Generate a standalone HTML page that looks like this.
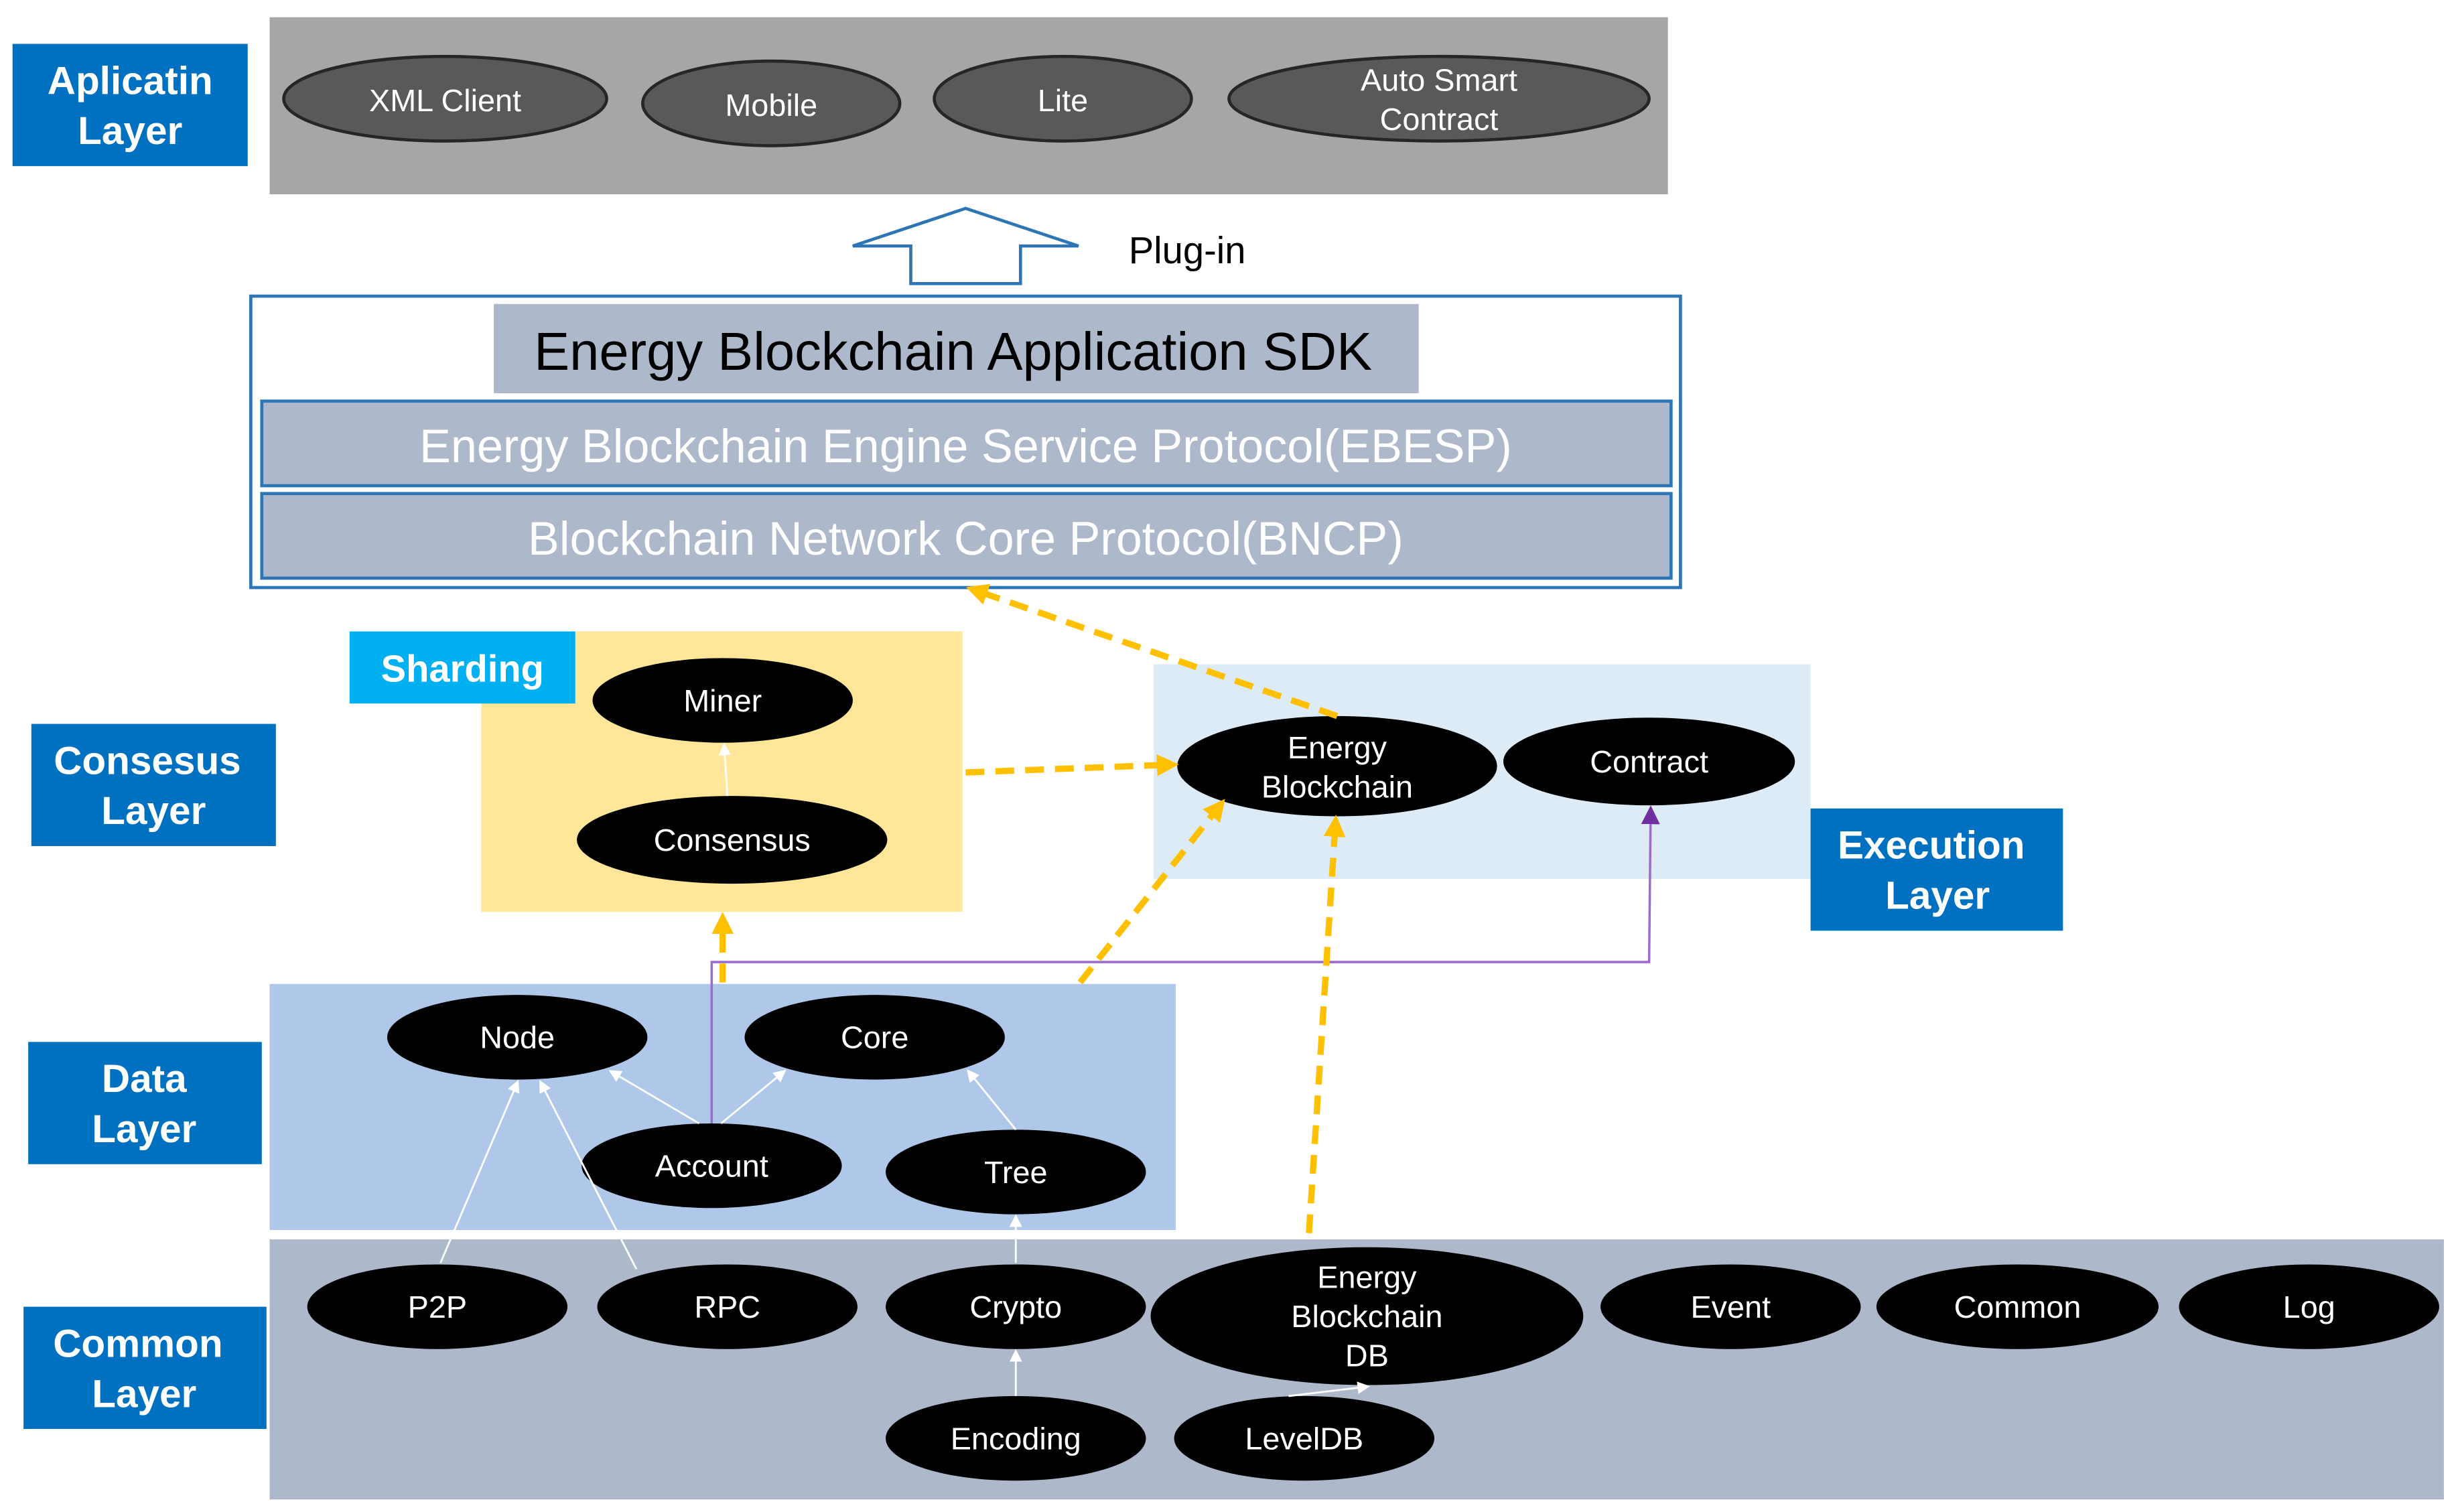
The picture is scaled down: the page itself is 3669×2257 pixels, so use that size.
<!DOCTYPE html>
<html><head><meta charset="utf-8"><style>
html,body{margin:0;padding:0;background:#fff;}
svg{display:block;}
text{font-family:"Liberation Sans","Noto Sans CJK KR",sans-serif;}
</style></head><body>
<svg width="3669" height="2257" viewBox="0 0 1568 965" preserveAspectRatio="none" xmlns="http://www.w3.org/2000/svg">
<defs>
<marker id="wa" markerWidth="8" markerHeight="8" refX="6" refY="4" orient="auto" markerUnits="userSpaceOnUse"><path d="M0,0 L8,4 L0,8 Z" fill="#fff"/></marker>
<marker id="ya" markerWidth="14" markerHeight="14" refX="10" refY="7" orient="auto" markerUnits="userSpaceOnUse"><path d="M0,0 L14,7 L0,14 Z" fill="#ffc000"/></marker>
<marker id="pa" markerWidth="12" markerHeight="12" refX="10" refY="6" orient="auto" markerUnits="userSpaceOnUse"><path d="M0,0 L12,6 L0,12 Z" fill="#7030a0"/></marker>
</defs>

<!-- Application layer -->
<rect x="172" y="11" width="892" height="113" fill="#a6a6a6"/>
<rect x="8" y="28" width="150" height="78" fill="#0070c0"/>
<text x="83" y="60" font-size="25" font-weight="bold" fill="#fff" text-anchor="middle">Aplicatin</text>
<text x="83" y="92" font-size="25" font-weight="bold" fill="#fff" text-anchor="middle">Layer</text>
<g fill="#595959" stroke="#262626" stroke-width="2">
<ellipse cx="284" cy="63" rx="103" ry="27"/>
<ellipse cx="492" cy="66" rx="82" ry="27"/>
<ellipse cx="678" cy="63" rx="82" ry="27"/>
<ellipse cx="918" cy="63" rx="134" ry="27"/>
</g>
<g fill="#fff" font-size="20" text-anchor="middle">
<text x="284" y="71">XML Client</text>
<text x="492" y="74">Mobile</text>
<text x="678" y="71">Lite</text>
<text x="918" y="58">Auto Smart</text>
<text x="918" y="83">Contract</text>
</g>

<!-- Plug-in arrow -->
<polygon points="544,157 616,133 688,157 651,157 651,181 581,181 581,157" fill="#fff" stroke="#2e75b6" stroke-width="2"/>
<text x="720" y="168" font-size="24" fill="#000">Plug-in</text>

<!-- SDK -->
<rect x="160" y="189" width="912" height="186" fill="#fff" stroke="#2e75b6" stroke-width="2"/>
<rect x="315" y="194" width="590" height="57" fill="#adb9ca"/>
<text x="608" y="236" font-size="34" fill="#000" text-anchor="middle">Energy Blockchain Application SDK</text>
<rect x="167" y="256" width="899" height="54" fill="#adb9ca" stroke="#2e75b6" stroke-width="2"/>
<text x="616" y="295" font-size="30" fill="#fff" text-anchor="middle">Energy Blockchain Engine Service Protocol(EBESP)</text>
<rect x="167" y="315" width="899" height="54" fill="#adb9ca" stroke="#2e75b6" stroke-width="2"/>
<text x="616" y="354" font-size="30" fill="#fff" text-anchor="middle">Blockchain Network Core Protocol(BNCP)</text>

<!-- Consensus / Sharding -->
<rect x="307" y="403" width="307" height="179" fill="#ffe699"/>
<rect x="223" y="403" width="144" height="46" fill="#00b0f0"/>
<text x="295" y="435" font-size="24" font-weight="bold" fill="#fff" text-anchor="middle">Sharding</text>
<rect x="20" y="462" width="156" height="78" fill="#0070c0"/>
<text x="94" y="494" font-size="25" font-weight="bold" fill="#fff" text-anchor="middle">Consesus</text>
<text x="98" y="526" font-size="25" font-weight="bold" fill="#fff" text-anchor="middle">Layer</text>

<!-- Execution -->
<rect x="736" y="424" width="419" height="137" fill="#ddebf7"/>
<rect x="1155" y="516" width="161" height="78" fill="#0070c0"/>
<text x="1232" y="548" font-size="25" font-weight="bold" fill="#fff" text-anchor="middle">Execution</text>
<text x="1236" y="580" font-size="25" font-weight="bold" fill="#fff" text-anchor="middle">Layer</text>

<!-- Data -->
<rect x="172" y="628" width="578" height="157" fill="#afc8e9"/>
<rect x="18" y="665" width="149" height="78" fill="#0070c0"/>
<text x="92" y="697" font-size="25" font-weight="bold" fill="#fff" text-anchor="middle">Data</text>
<text x="92" y="729" font-size="25" font-weight="bold" fill="#fff" text-anchor="middle">Layer</text>

<!-- Common -->
<rect x="172" y="791" width="1387" height="166" fill="#adb9ca"/>
<rect x="15" y="834" width="155" height="78" fill="#0070c0"/>
<text x="88" y="866" font-size="25" font-weight="bold" fill="#fff" text-anchor="middle">Common</text>
<text x="92" y="898" font-size="25" font-weight="bold" fill="#fff" text-anchor="middle">Layer</text>

<!-- black ellipses -->
<g fill="#000">
<ellipse cx="461" cy="447" rx="83" ry="27"/>
<ellipse cx="467" cy="536" rx="99" ry="28"/>
<ellipse cx="853" cy="489" rx="102" ry="32"/>
<ellipse cx="1052" cy="486" rx="93" ry="28"/>
<ellipse cx="330" cy="662" rx="83" ry="27"/>
<ellipse cx="558" cy="662" rx="83" ry="27"/>
<ellipse cx="454" cy="744" rx="83" ry="27"/>
<ellipse cx="648" cy="748" rx="83" ry="27"/>
<ellipse cx="279" cy="834" rx="83" ry="27"/>
<ellipse cx="464" cy="834" rx="83" ry="27"/>
<ellipse cx="648" cy="834" rx="83" ry="27"/>
<ellipse cx="872" cy="840" rx="138" ry="44"/>
<ellipse cx="1104" cy="834" rx="83" ry="27"/>
<ellipse cx="1287" cy="834" rx="90" ry="27"/>
<ellipse cx="1473" cy="834" rx="83" ry="27"/>
<ellipse cx="648" cy="918" rx="83" ry="27"/>
<ellipse cx="832" cy="918" rx="83" ry="27"/>
</g>
<g fill="#fff" font-size="20" text-anchor="middle">
<text x="461" y="454">Miner</text>
<text x="467" y="543">Consensus</text>
<text x="853" y="484">Energy</text>
<text x="853" y="509">Blockchain</text>
<text x="1052" y="493">Contract</text>
<text x="330" y="669">Node</text>
<text x="558" y="669">Core</text>
<text x="454" y="751">Account</text>
<text x="648" y="755">Tree</text>
<text x="279" y="841">P2P</text>
<text x="464" y="841">RPC</text>
<text x="648" y="841">Crypto</text>
<text x="872" y="822">Energy</text>
<text x="872" y="847">Blockchain</text>
<text x="872" y="872">DB</text>
<text x="1104" y="841">Event</text>
<text x="1287" y="841">Common</text>
<text x="1473" y="841">Log</text>
<text x="648" y="925">Encoding</text>
<text x="832" y="925">LevelDB</text>
</g>

<!-- white arrows -->
<g stroke="#fff" stroke-width="1.2" fill="none" marker-end="url(#wa)">
<line x1="464" y1="508" x2="462" y2="476"/>
<line x1="446" y1="717" x2="390" y2="684"/>
<line x1="460" y1="717" x2="500" y2="684"/>
<line x1="648" y1="721" x2="618" y2="684"/>
<line x1="281" y1="806" x2="330" y2="691"/>
<line x1="406" y1="810" x2="345" y2="691"/>
<line x1="648" y1="806" x2="648" y2="777"/>
<line x1="648" y1="891" x2="648" y2="863"/>
<line x1="822" y1="891" x2="872" y2="885"/>
</g>

<!-- purple connector -->
<polyline points="454,717 454,614 1052,614 1053,516" fill="none" stroke="#9b6ccf" stroke-width="1.5" marker-end="url(#pa)"/>

<!-- yellow dashed -->
<g stroke="#ffc000" stroke-width="4" stroke-dasharray="12,7" fill="none" marker-end="url(#ya)">
<line x1="853" y1="457" x2="620" y2="376"/>
<line x1="616" y1="493" x2="748" y2="488"/>
<line x1="689" y1="627" x2="779" y2="513"/>
<line x1="835" y1="787" x2="852" y2="524"/>
<line x1="461" y1="627" x2="461" y2="586"/>
</g>
</svg>
</body></html>
